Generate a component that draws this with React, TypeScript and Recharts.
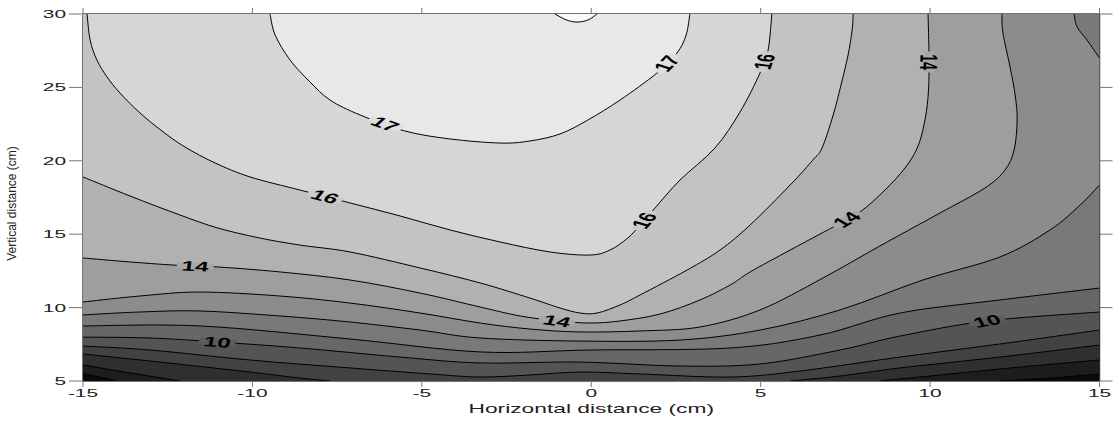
import { ComposedChart, Scatter, XAxis, YAxis } from 'recharts';

// ---- data (cm) ----
const xTicks = [-15, -10, -5, 0, 5, 10, 15];
const yTicks = [5, 10, 15, 20, 25, 30];

type Pt = { x: number; y: number };
const P = (pairs: number[][]): Pt[] => pairs.map(([x, y]) => ({ x, y }));

const line6L = P([[-15, 5.48], [-14.5, 5.27], [-14, 5]]);
const line6R = P([[12.06, 5], [13.54, 5.2], [15, 5.48]]);
const line7L = P([[-15, 6.09], [-13.61, 5.55], [-12.14, 5]]);
const line7R = P([[8.52, 5], [10.59, 5.48], [12.65, 5.95], [15, 6.43]]);
const line8L = P([[-15, 6.84], [-13.02, 6.36], [-10.07, 5.61], [-8.6, 5.2], [-7.71, 5]]);
const line8R = P([[5.87, 5], [7.34, 5.34], [9.11, 5.89], [12.06, 6.63], [15, 7.45]]);
const line9 = P([
  [-15, 7.38], [-13.02, 7.11], [-10.07, 6.43], [-7.12, 5.89], [-4.76, 5.48], [-3.28, 5.27],
  [-1.81, 5.41], [-0.33, 5.61], [1.44, 5.48], [4.1, 5.27], [6.16, 5.68], [9.11, 6.63], [12.06, 7.52], [15, 8.47],
]);
const line10 = P([
  [-15, 7.99], [-13.02, 7.93], [-11.05, 7.66], [-8.6, 7.25], [-5.64, 6.63], [-3.28, 6.23],
  [-0.33, 6.29], [2.62, 6.02], [4.98, 6.16], [7.34, 7.11], [9.11, 8.06], [11.68, 9.09], [15, 9.7],
]);
const line11 = P([
  [-15, 8.75], [-11.55, 8.75], [-7.12, 7.86], [-3.28, 6.98], [-0.04, 7.11], [4.1, 7.25],
  [6.75, 8.13], [9.11, 9.63], [12.06, 10.52], [15, 11.33],
]);
const line12A = P([[14.25, 30], [14.34, 29.11], [14.63, 28.23], [15, 27.0]]);
const line12B = P([
  [-15, 9.5], [-13.32, 9.7], [-11.55, 9.77], [-9.19, 9.43], [-7.12, 9.02], [-5.05, 8.47],
  [-3.28, 7.93], [-0.33, 7.72], [2.62, 7.79], [4.98, 8.47], [7.34, 9.84], [9.79, 11.88],
  [12.06, 13.45], [13.54, 15.29], [14.43, 16.99], [15, 18.35],
]);
const line13 = P([
  [-15, 10.38], [-13.32, 10.79], [-11.55, 11.06], [-9.19, 10.79], [-7.12, 10.31], [-5.05, 9.63],
  [-3.28, 8.95], [-1.81, 8.54], [-0.33, 8.34], [1.44, 8.41], [3.21, 8.68], [4.98, 9.84],
  [6.84, 12.02], [8.52, 14.2], [10.29, 16.44], [11.62, 18.15], [12.21, 19.37], [12.48, 20.74],
  [12.57, 22.78], [12.51, 24.48], [12.36, 26.39], [12.15, 28.71], [12.12, 30],
]);
const line14 = P([
  [-15, 13.38], [-13.61, 13.11], [-12.34, 12.9], [-11.04, 12.77], [-9.19, 12.43], [-7.12, 11.88],
  [-5.05, 10.99], [-3.28, 10.04], [-2.1, 9.43], [-0.99, 9.09], [-0.04, 8.95], [0.85, 9.09],
  [2.03, 9.56], [3.21, 10.52], [4.1, 11.54], [4.69, 12.43], [5.87, 13.92], [7.14, 15.49],
  [7.93, 16.51], [8.67, 18.01], [9.26, 19.51], [9.62, 20.87], [9.82, 22.44], [9.94, 24.35],
  [9.97, 26.73], [9.94, 30],
]);
const line15 = P([
  [-15, 18.9], [-13.61, 17.6], [-12.14, 16.31], [-11.02, 15.42], [-9.78, 14.74], [-8.6, 14.26],
  [-7.12, 13.79], [-5.05, 12.7], [-3.28, 11.68], [-1.81, 10.65], [-0.92, 9.97], [-0.33, 9.63],
  [0.17, 9.63], [0.85, 10.18], [1.44, 10.86], [2.83, 12.56], [3.8, 13.92], [4.69, 15.63],
  [5.87, 18.35], [6.54, 20.05], [6.81, 20.87], [7.14, 23.12], [7.37, 25.16], [7.58, 27.21],
  [7.7, 28.91], [7.73, 30],
]);
const line16 = P([
  [-14.88, 30], [-14.79, 28.23], [-14.59, 26.87], [-14.29, 25.71], [-13.91, 24.62], [-13.32, 23.26],
  [-12.67, 22.03], [-11.99, 20.94], [-11.1, 19.85], [-10.07, 18.9], [-8.6, 18.01], [-7.12, 17.13],
  [-5.64, 16.24], [-4.17, 15.29], [-2.69, 14.47], [-1.22, 13.79], [-0.04, 13.58], [0.55, 13.92],
  [1.08, 14.74], [1.44, 15.63], [1.88, 16.78], [2.62, 18.69], [3.65, 20.87], [4.39, 23.32],
  [4.98, 25.98], [5.22, 27.55], [5.33, 30],
]);
const line17 = P([
  [-9.48, 30], [-9.33, 28.57], [-8.89, 26.87], [-8.3, 25.37], [-7.71, 24.14], [-6.82, 23.12],
  [-5.5, 22.03], [-4.17, 21.49], [-2.69, 21.21], [-1.81, 21.35], [-0.92, 21.83], [-0.1, 22.78],
  [0.85, 24.14], [1.94, 25.98], [2.53, 27.34], [2.8, 28.57], [2.91, 30],
]);
const line18 = P([[-1.07, 30], [-0.74, 29.6], [-0.42, 29.45], [-0.09, 29.6], [0.17, 30]]);

const contourLabels = [
  { level: 17, x: -6.09, y: 22.44 },
  { level: 17, x: 2.18, y: 26.73 },
  { level: 16, x: -7.86, y: 17.53 },
  { level: 16, x: 1.47, y: 16.1 },
  { level: 16, x: 5.13, y: 26.73 },
  { level: 14, x: -11.69, y: 12.77 },
  { level: 14, x: -1.01, y: 9.09 },
  { level: 14, x: 7.58, y: 15.83 },
  { level: 14, x: 9.97, y: 26.73, flip: true },
  { level: 10, x: -11.04, y: 7.59 },
  { level: 10, x: 11.68, y: 9.09 },
];

// ---- layout ----
const W = 1116;
const H = 423;
const LEFT_W = 83;
const RIGHT_W = 16.5;
const TOP_H = 14;
const BOTTOM_H = 42;
const PLOT_W = W - LEFT_W - RIGHT_W;
const PLOT_H = H - TOP_H - BOTTOM_H;
const KX = PLOT_W / 30;
const KY = PLOT_H / 25;
const STRETCH = 1.9;
const LABEL_STRETCH = 1.75;
const FONT = "'Liberation Sans', Arial, sans-serif";

const gray = (g: number) => {
  const v = Math.max(0, Math.min(250, Math.round(g)));
  return `rgb(${v},${v},${v})`;
};
// band [level, level+1]
const shade = (level: number) => gray(10 + (level - 5) * 18.5);

type Part = { pts: Pt[]; smooth: boolean };
const sm = (pts: Pt[]): Part => ({ pts, smooth: true });
const edge = (pairs: number[][]): Part => ({ pts: P(pairs), smooth: false });
const top = [[15, 30], [-15, 30]];

const regions: { level: number; parts: Part[] }[] = [
  { level: 5, parts: [edge([[-15, 5], [15, 5], [15, 30], [-15, 30]])] },
  { level: 6, parts: [sm(line6L), sm(line6R), edge(top)] },
  { level: 7, parts: [sm(line7L), sm(line7R), edge(top)] },
  { level: 8, parts: [sm(line8L), sm(line8R), edge(top)] },
  { level: 9, parts: [sm(line9), edge(top)] },
  { level: 10, parts: [sm(line10), edge(top)] },
  { level: 11, parts: [sm(line11), edge(top)] },
  { level: 12, parts: [sm(line12B), sm([...line12A].reverse()), edge([[-15, 30]])] },
  { level: 13, parts: [sm(line13), edge([[-15, 30]])] },
  { level: 14, parts: [sm(line14), edge([[-15, 30]])] },
  { level: 15, parts: [sm(line15), edge([[-15, 30]])] },
  { level: 16, parts: [sm(line16)] },
  { level: 17, parts: [sm(line17)] },
  { level: 18, parts: [sm(line18)] },
];

const contourLines = [
  line6L, line6R, line7L, line7R, line8L, line8R, line9, line10, line11,
  line12A, line12B, line13, line14, line15, line16, line17, line18,
];
const lineByLevel: Record<number, Pt[]> = { 10: line10, 14: line14, 16: line16, 17: line17 };

// catmull-rom through screen points, as cubic segments
function curveCmds(pts: { x: number; y: number }[]) {
  let d = '';
  for (let i = 0; i < pts.length - 1; i++) {
    const p0 = pts[i - 1] ?? pts[i];
    const p1 = pts[i];
    const p2 = pts[i + 1];
    const p3 = pts[i + 2] ?? p2;
    const c1x = p1.x + (p2.x - p0.x) / 6;
    const c1y = p1.y + (p2.y - p0.y) / 6;
    const c2x = p2.x - (p3.x - p1.x) / 6;
    const c2y = p2.y - (p3.y - p1.y) / 6;
    d += `C${c1x},${c1y} ${c2x},${c2y} ${p2.x},${p2.y}`;
  }
  return d;
}

const regionPath = (parts: Part[], fill: string) => (props: any) => {
  const pts = props.points || [];
  if (!pts.length) return <g />;
  let i = 0;
  let d = '';
  parts.forEach((part, k) => {
    const seg = pts.slice(i, i + part.pts.length);
    i += part.pts.length;
    d += `${k === 0 ? 'M' : 'L'}${seg[0].x},${seg[0].y}`;
    if (part.smooth) d += curveCmds(seg);
    else seg.slice(1).forEach((p: Pt) => (d += `L${p.x},${p.y}`));
  });
  return <path d={`${d}Z`} fill={fill} stroke="none" />;
};

const strokePath = (props: any) => {
  const pts = props.points || [];
  if (!pts.length) return <g />;
  return <path d={`M${pts[0].x},${pts[0].y}${curveCmds(pts)}`} fill="none" stroke="#000" strokeWidth={1} />;
};

const noShape = () => <g />;

// snap each label onto its contour and take the local direction
const labelSpots = contourLabels.map((lab) => {
  const line = lineByLevel[lab.level];
  let best = { d: Infinity, x: lab.x, y: lab.y, dx: 1, dy: 0 };
  for (let i = 0; i < line.length - 1; i++) {
    const a = line[i];
    const b = line[i + 1];
    const ax = a.x * KX, ay = -a.y * KY, bx = b.x * KX, by = -b.y * KY;
    const px = lab.x * KX, py = -lab.y * KY;
    const vx = bx - ax, vy = by - ay;
    const len2 = vx * vx + vy * vy || 1;
    const t = Math.max(0, Math.min(1, ((px - ax) * vx + (py - ay) * vy) / len2));
    const qx = ax + t * vx, qy = ay + t * vy;
    const dist = Math.hypot(px - qx, py - qy);
    if (dist < best.d) best = { d: dist, x: qx / KX, y: -qy / KY, dx: vx, dy: vy };
  }
  let { dx, dy } = best;
  if (dx < 0 || (dx === 0 && dy > 0)) { dx = -dx; dy = -dy; }
  if (lab.flip) { dx = -dx; dy = -dy; }
  const ang = (Math.atan2(dy, dx / LABEL_STRETCH) * 180) / Math.PI;
  return { x: best.x, y: best.y, level: lab.level, ang };
});

const labelShape = (props: any) => {
  const { cx, cy, payload } = props;
  return (
    <g transform={`translate(${cx},${cy}) scale(${LABEL_STRETCH},1) rotate(${payload.ang})`}>
      <rect x={-10.5} y={-3} width={21} height={6} fill={gray(10 + (payload.level - 5.5) * 18.5)} />
      <text x={0} y={0} dy="0.36em" textAnchor="middle" fontSize={14} fontWeight="bold" fontFamily={FONT} fill="#000">
        {payload.level}
      </text>
    </g>
  );
};

const BottomTick = ({ x, y, payload }: any) => (
  <text transform={`translate(${x},${y + 8}) scale(${STRETCH},1)`} textAnchor="middle" fontSize={11} fontFamily={FONT} fill="#222">
    {payload.value}
  </text>
);

const LeftTick = ({ x, y, payload }: any) => (
  <text transform={`translate(${x - 1},${y + 4}) scale(${STRETCH},1)`} textAnchor="end" fontSize={11} fontFamily={FONT} fill="#222">
    {payload.value}
  </text>
);

const XTitle = ({ viewBox }: any) => {
  const cx = viewBox.x + viewBox.width / 2;
  return (
    <text transform={`translate(${cx},${viewBox.y + 32}) scale(1.9,1)`} textAnchor="middle" fontSize={12} fontFamily={FONT} fill="#222">
      Horizontal distance (cm)
    </text>
  );
};

const YTitle = ({ viewBox }: any) => (
  <text transform={`translate(${viewBox.x + 16},${viewBox.y + viewBox.height / 2 + 6}) rotate(-90)`} textAnchor="middle" fontSize={12} fontFamily={FONT} fill="#222">
    Vertical distance (cm)
  </text>
);

const axisLine = { stroke: '#444', strokeWidth: 1.5 };
const tickLine = { stroke: '#777' };

export default function App() {
  return (
    <div style={{ position: 'absolute', left: 0, top: 0, width: W, height: H, background: '#fff' }}>
      <ComposedChart width={W} height={H} margin={{ top: 0, right: 0, bottom: 0, left: 0 }}>
        <XAxis
          dataKey="x"
          type="number"
          domain={[-15, 15]}
          ticks={xTicks}
          interval={0}
          allowDataOverflow
          height={BOTTOM_H}
          tickSize={6}
          axisLine={axisLine}
          tickLine={tickLine}
          tick={<BottomTick />}
          label={XTitle}
        />
        <XAxis
          xAxisId="top"
          orientation="top"
          dataKey="x"
          type="number"
          domain={[-15, 15]}
          ticks={xTicks}
          interval={0}
          allowDataOverflow
          height={TOP_H}
          tickSize={6}
          axisLine={axisLine}
          tickLine={tickLine}
          tick={noShape}
        />
        <YAxis
          dataKey="y"
          type="number"
          domain={[5, 30]}
          ticks={yTicks}
          interval={0}
          allowDataOverflow
          width={LEFT_W}
          tickSize={14}
          axisLine={axisLine}
          tickLine={tickLine}
          tick={<LeftTick />}
          label={YTitle}
        />
        <YAxis
          yAxisId="right"
          orientation="right"
          dataKey="y"
          type="number"
          domain={[5, 30]}
          ticks={yTicks}
          interval={0}
          allowDataOverflow
          width={RIGHT_W}
          tickSize={13}
          axisLine={axisLine}
          tickLine={tickLine}
          tick={noShape}
        />
        {regions.map((r) => (
          <Scatter
            key={`fill-${r.level}`}
            data={r.parts.flatMap((p) => p.pts)}
            shape={noShape}
            line={regionPath(r.parts, shade(r.level))}
            isAnimationActive={false}
            legendType="none"
          />
        ))}
        {contourLines.map((pts, i) => (
          <Scatter
            key={`line-${i}`}
            data={pts}
            shape={noShape}
            line={strokePath}
            isAnimationActive={false}
            legendType="none"
          />
        ))}
        <Scatter data={labelSpots} shape={labelShape} isAnimationActive={false} legendType="none" />
      </ComposedChart>
    </div>
  );
}
